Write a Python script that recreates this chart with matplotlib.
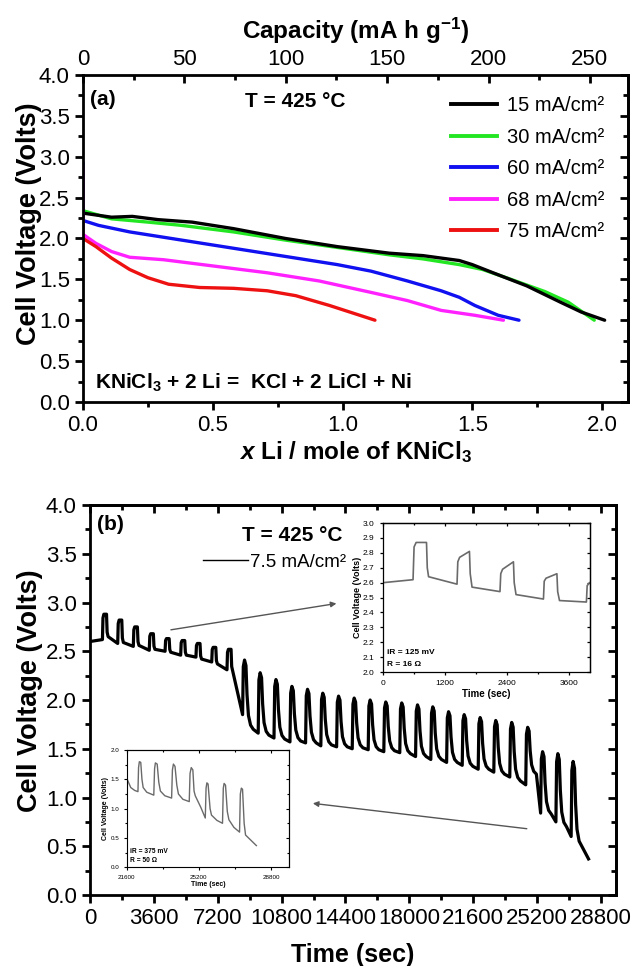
import matplotlib
matplotlib.use('Agg')
import matplotlib.pyplot as plt
from matplotlib.ticker import MultipleLocator, FixedLocator, NullFormatter
from matplotlib.lines import Line2D

plt.rcParams['font.family'] = ['Liberation Sans', 'DejaVu Sans']
plt.rcParams['mathtext.fontset'] = 'custom'
plt.rcParams['mathtext.rm'] = 'Liberation Sans'
plt.rcParams['mathtext.bf'] = 'Liberation Sans:bold'
plt.rcParams['mathtext.it'] = 'Liberation Sans:italic:bold'

# ---- panel (a): discharge curves (x Li per mole KNiCl3 vs cell voltage)
x_15 = [0, 0.11, 0.19, 0.29, 0.42, 0.58, 0.78, 0.98, 1.18, 1.31, 1.45, 1.50, 1.58, 1.71, 1.84, 1.92, 2.01]
v_15 = [2.31, 2.26, 2.27, 2.23, 2.20, 2.12, 2.00, 1.90, 1.82, 1.79, 1.73, 1.68, 1.58, 1.42, 1.22, 1.10, 1.00]
x_30 = [0, 0.11, 0.25, 0.38, 0.58, 0.78, 0.98, 1.18, 1.31, 1.45, 1.54, 1.64, 1.78, 1.87, 1.97]
v_30 = [2.34, 2.24, 2.20, 2.16, 2.08, 1.98, 1.89, 1.80, 1.75, 1.68, 1.62, 1.51, 1.35, 1.22, 1.00]
x_60 = [0, 0, 0.06, 0.18, 0.38, 0.58, 0.78, 0.98, 1.11, 1.25, 1.38, 1.45, 1.51, 1.60, 1.68]
v_60 = [2.93, 2.22, 2.16, 2.08, 1.98, 1.88, 1.78, 1.68, 1.60, 1.48, 1.36, 1.28, 1.18, 1.06, 1.00]
x_68 = [0, 0, 0.05, 0.11, 0.18, 0.31, 0.51, 0.71, 0.91, 1.11, 1.25, 1.38, 1.51, 1.62]
v_68 = [2.87, 2.05, 1.94, 1.84, 1.77, 1.74, 1.66, 1.58, 1.48, 1.34, 1.24, 1.12, 1.06, 1.00]
x_75 = [0, 0.05, 0.11, 0.18, 0.25, 0.33, 0.45, 0.58, 0.71, 0.82, 0.95, 1.125]
v_75 = [2.00, 1.90, 1.76, 1.62, 1.52, 1.44, 1.40, 1.39, 1.36, 1.30, 1.18, 1.00]
cap_per_li = 128.0  # mA h/g per x
cap_ticks = [0, 50, 100, 150, 200, 250]

# ---- panel (b): pulse discharge at 7.5 mA/cm2
start_v = 2.60
pulse_t = [700, 1560, 2440, 3340, 4230, 5110, 5970, 6860, 7720, 8600,
           9480, 10370, 11270, 12150, 13010, 13900, 14780, 15680, 16560, 17460,
           18350, 19210, 20100, 20980, 21880, 22760, 23660, 24560, 25400, 26260, 27120]
pulse_base = [2.62, 2.58, 2.55, 2.51, 2.50, 2.46, 2.44, 2.39, 2.31, 1.85,
              1.66, 1.61, 1.57, 1.56, 1.53, 1.52, 1.50, 1.49, 1.47, 1.46,
              1.42, 1.39, 1.36, 1.33, 1.29, 1.26, 1.21, 1.13, 0.84, 0.75, 0.60]
pulse_peak = [2.88, 2.82, 2.75, 2.68, 2.63, 2.61, 2.58, 2.54, 2.52, 2.41,
              2.28, 2.21, 2.14, 2.11, 2.07, 2.04, 2.02, 2.00, 1.98, 1.97,
              1.95, 1.93, 1.88, 1.85, 1.82, 1.79, 1.77, 1.72, 1.47, 1.45, 1.37]
pulse_after = [2.65, 2.59, 2.56, 2.52, 2.49, 2.46, 2.42, 2.37, 2.30, 1.70,
               1.64, 1.60, 1.58, 1.56, 1.54, 1.52, 1.51, 1.49, 1.48, 1.45,
               1.42, 1.39, 1.36, 1.32, 1.29, 1.24, 1.17, 1.24, 0.83, 0.70, 0.50]
end_t, end_v = 28100, 0.37

# inset 1: first hour
ins1_t = [0, 580, 600, 640, 840, 855, 880, 1430, 1445, 1480, 1670, 1685, 1720, 2260, 2275, 2310,
          2520, 2535, 2570, 3100, 3115, 3150, 3360, 3375, 3410, 3930, 3945, 3990]
ins1_v = [2.60, 2.62, 2.84, 2.87, 2.87, 2.70, 2.64, 2.59, 2.74, 2.77, 2.81, 2.66, 2.57, 2.54, 2.66, 2.69,
          2.74, 2.60, 2.52, 2.49, 2.61, 2.63, 2.66, 2.54, 2.48, 2.47, 2.58, 2.60]
# inset 2: end of discharge
ins2_t = [21600, 21800, 22000, 22160, 22190, 22230, 22300, 22360, 22420, 22600, 22950, 22990, 23030, 23120,
          23200, 23280, 23500, 23840, 23880, 23930, 24010, 24100, 24180, 24400, 24720, 24760, 24820, 24900,
          24960, 25020, 25300, 25520, 25560, 25600, 25660, 25760, 25830, 26100, 26380, 26420, 26460, 26530,
          26620, 26700, 26950, 27230, 27270, 27320, 27380, 27460, 27530, 27800, 28070]
ins2_v = [1.52, 1.36, 1.31, 1.29, 1.70, 1.80, 1.79, 1.50, 1.36, 1.28, 1.23, 1.68, 1.78, 1.76,
          1.45, 1.30, 1.22, 1.18, 1.66, 1.76, 1.72, 1.40, 1.25, 1.16, 1.12, 1.60, 1.70, 1.66,
          1.30, 1.22, 1.02, 0.84, 1.35, 1.44, 1.42, 1.00, 0.89, 0.80, 0.75, 1.35, 1.43, 1.40,
          0.95, 0.81, 0.68, 0.60, 1.25, 1.35, 1.33, 0.75, 0.55, 0.46, 0.37]

fig = plt.figure(figsize=(6.33, 9.66), dpi=100)


def style_axes(ax, lw=2.0, major=6, minor=3.5, size=16, top=True):
    # Origin-like frame: ticks out on left/bottom, in on right/top
    for s in ax.spines.values():
        s.set_linewidth(lw)
    ax.tick_params(which='both', width=lw, labelsize=size, direction='out',
                   left=True, bottom=True, right=False, top=False)
    ax.tick_params(which='major', length=major)
    ax.tick_params(which='minor', length=minor)
    sides = [(ax.secondary_yaxis('right'), 'y')]
    if top:
        sides.append((ax.secondary_xaxis('top'), 'x'))
    for sec, which in sides:
        axis = sec.yaxis if which == 'y' else sec.xaxis
        src = ax.yaxis if which == 'y' else ax.xaxis
        axis.set_major_locator(src.get_major_locator())
        axis.set_minor_locator(src.get_minor_locator())
        axis.set_major_formatter(NullFormatter())
        sec.tick_params(which='both', width=lw, direction='in')
        sec.tick_params(which='major', length=major)
        sec.tick_params(which='minor', length=minor)
        for s in sec.spines.values():
            s.set_linewidth(lw)


# ------------------- top panel
ax1 = fig.add_axes([0.1311, 0.5839, 0.8610, 0.3385])
ax1.plot(x_30, v_30, color='#22e622', lw=2.4, solid_capstyle='round')
ax1.plot(x_15, v_15, color='black', lw=2.4, solid_capstyle='round')
ax1.plot(x_60, v_60, color='#1010f0', lw=2.4, solid_capstyle='round')
ax1.plot(x_68, v_68, color='#ff22ff', lw=2.4, solid_capstyle='round')
ax1.plot(x_75, v_75, color='#ee1111', lw=2.4, solid_capstyle='round')
ax1.set_xlim(0, 2.1)
ax1.set_ylim(0, 4.0)
ax1.xaxis.set_major_locator(MultipleLocator(0.5))
ax1.xaxis.set_minor_locator(MultipleLocator(0.25))
ax1.yaxis.set_major_locator(MultipleLocator(0.5))
ax1.yaxis.set_minor_locator(MultipleLocator(0.25))
style_axes(ax1, top=False)
ax1.set_ylabel('Cell Voltage (Volts)', fontsize=19.5, fontweight='bold')
ax1.yaxis.set_label_coords(-0.076, 0.545)
ax1.set_xlabel(r'$x$ Li / mole of KNiCl$_\mathbf{3}$', fontsize=17.5, fontweight='bold', labelpad=2)

cap = ax1.secondary_xaxis('top', functions=(lambda x: x * cap_per_li, lambda c: c / cap_per_li))
cap.xaxis.set_major_locator(FixedLocator(cap_ticks))
cap.xaxis.set_minor_locator(FixedLocator([c + 25 for c in cap_ticks[:-1]]))
cap.tick_params(which='both', width=2.0, labelsize=16, direction='in')
cap.tick_params(which='major', length=6)
cap.tick_params(which='minor', length=3.5)
cap.set_xlabel(r'Capacity (mA h g$^{\mathbf{-1}}$)', fontsize=17.5, fontweight='bold', labelpad=7)

handles = [Line2D([], [], color=c, lw=2.8) for c in ['black', '#22e622', '#1010f0', '#ff22ff', '#ee1111']]
labels = ['15 mA/cm²', '30 mA/cm²', '60 mA/cm²', '68 mA/cm²', '75 mA/cm²']
ax1.legend(handles, labels, loc='upper left', bbox_to_anchor=(0.66, 0.96), frameon=False,
           fontsize=14.5, handlelength=2.3, handletextpad=0.5, labelspacing=0.62, borderaxespad=0)
ax1.text(0.013, 0.925, '(a)', transform=ax1.transAxes, fontsize=15, fontweight='bold', va='center')
ax1.text(0.297, 0.92, 'T = 425 °C', transform=ax1.transAxes, fontsize=15, fontweight='bold', va='center')
ax1.text(0.022, 0.058, r'KNiCl$_\mathbf{3}$ + 2 Li =  KCl + 2 LiCl + Ni', transform=ax1.transAxes,
         fontsize=15, fontweight='bold', va='center')

# ------------------- bottom panel
# outline of one pulse: time after the rise, and position between base/peak/after levels
square_dt = [0, 30, 80, 230, 265, 320]
fin_dt = [0, 40, 110, 190, 250, 330, 450, 600]
trace_t = [0]
trace_v = [start_v]
for i, (t0, vb, vp, va) in enumerate(zip(pulse_t, pulse_base, pulse_peak, pulse_after)):
    d = vp - va
    if i < 9:
        dts = square_dt
        lev = [vb, vp - 0.15 * (vp - vb), vp, vp, va + 0.2 * d, va]
    else:
        dts = fin_dt
        lev = [vb, vp - 0.12 * (vp - vb), vp, vp - 0.08 * d, vp - 0.5 * d,
               vp - 0.8 * d, vp - 0.94 * d, va]
    trace_t += [t0 + dt for dt in dts]
    trace_v += lev
trace_t.append(end_t)
trace_v.append(end_v)

ax2 = fig.add_axes([0.1422, 0.0735, 0.8310, 0.4037])
ax2.plot(trace_t, trace_v, color='black', lw=2.3, solid_joinstyle='round')
ax2.set_xlim(0, 29650)
ax2.set_ylim(0, 4.0)
ax2.xaxis.set_major_locator(MultipleLocator(3600))
ax2.xaxis.set_minor_locator(MultipleLocator(1800))
ax2.yaxis.set_major_locator(MultipleLocator(0.5))
ax2.yaxis.set_minor_locator(MultipleLocator(0.25))
style_axes(ax2)
ax2.set_ylabel('Cell Voltage (Volts)', fontsize=19.5, fontweight='bold')
ax2.yaxis.set_label_coords(-0.09, 0.525)
ax2.set_xlabel('Time (sec)', fontsize=18, fontweight='bold', labelpad=10)
ax2.text(0.013, 0.949, '(b)', transform=ax2.transAxes, fontsize=15, fontweight='bold', va='center')
ax2.text(0.289, 0.923, 'T = 425 °C', transform=ax2.transAxes, fontsize=15, fontweight='bold', va='center')
ax2.legend([Line2D([], [], color='black', lw=1.0)], ['7.5 mA/cm²'], loc='upper left',
           bbox_to_anchor=(0.2, 0.895), frameon=False, fontsize=13.5, handlelength=2.4,
           handletextpad=0.1, borderaxespad=0)
arrow = dict(arrowstyle='-|>', color='#555555', lw=1.0, mutation_scale=8, shrinkA=0, shrinkB=0)
ax2.annotate('', xy=(13890, 2.99), xytext=(4560, 2.72), arrowprops=arrow)
ax2.annotate('', xy=(12560, 0.94), xytext=(24620, 0.68), arrowprops=arrow)

# upper inset
in1 = fig.add_axes([0.6051, 0.3043, 0.3270, 0.1542])
in1.plot(ins1_t, ins1_v, color='#6a6a6a', lw=1.2)
in1.set_xlim(0, 4000)
in1.set_ylim(2.0, 3.0)
in1.xaxis.set_major_locator(MultipleLocator(1200))
in1.xaxis.set_minor_locator(MultipleLocator(600))
in1.yaxis.set_major_locator(MultipleLocator(0.1))
in1.yaxis.set_minor_locator(MultipleLocator(0.1))
style_axes(in1, lw=0.9, major=2.5, minor=1.5, size=6)
in1.set_xlabel('Time (sec)', fontsize=7, fontweight='bold', labelpad=1)
in1.set_ylabel('Cell Voltage (Volts)', fontsize=6.5, fontweight='bold', labelpad=1)
in1.text(0.02, 0.128, 'iR = 125 mV', transform=in1.transAxes, fontsize=6, fontweight='bold', va='center')
in1.text(0.02, 0.050, 'R = 16 Ω', transform=in1.transAxes, fontsize=6, fontweight='bold', va='center')

# lower inset
in2 = fig.add_axes([0.2002, 0.1022, 0.2564, 0.1214])
in2.plot(ins2_t, ins2_v, color='#6a6a6a', lw=1.0)
in2.set_xlim(21600, 29700)
in2.set_ylim(0, 2.0)
in2.xaxis.set_major_locator(MultipleLocator(3600))
in2.xaxis.set_minor_locator(MultipleLocator(1800))
in2.yaxis.set_major_locator(MultipleLocator(0.5))
in2.yaxis.set_minor_locator(MultipleLocator(0.25))
style_axes(in2, lw=0.8, major=2, minor=1.2, size=4.5)
in2.set_xlabel('Time (sec)', fontsize=5, fontweight='bold', labelpad=1)
in2.set_ylabel('Cell Voltage (Volts)', fontsize=5, fontweight='bold', labelpad=1)
in2.text(0.02, 0.133, 'iR = 375 mV', transform=in2.transAxes, fontsize=4.8, fontweight='bold', va='center')
in2.text(0.02, 0.062, 'R = 50 Ω', transform=in2.transAxes, fontsize=4.8, fontweight='bold', va='center')

fig.savefig('out.png', dpi=100)
